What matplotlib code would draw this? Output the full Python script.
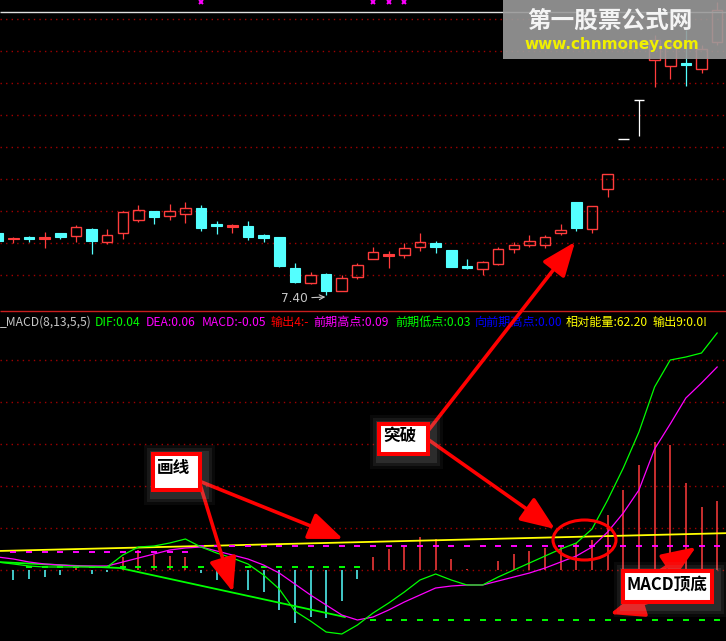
import matplotlib.pyplot as plt
import numpy as np
from matplotlib.patches import Rectangle, Ellipse, FancyArrowPatch

# candles (price), index = bar number
opens = [8.02, 7.96, 7.98, 7.96, 8.02, 7.99, 8.06, 7.93, 8.02, 8.15, 8.24, 8.19, 8.21, 8.27, 8.11, 8.08,
         8.09, 8.00, 7.98, 7.67, 7.52, 7.61, 7.44, 7.58, 7.76, 7.79, 7.80, 7.88, 7.92, 7.85, 7.69, 7.66,
         7.71, 7.86, 7.90, 7.90, 8.02, 8.33, 8.06, 8.46, 8.96, 9.35, 9.75, 9.69, 9.72, 9.66, 9.93]
closes = [7.94, 7.97, 7.96, 7.98, 7.98, 8.08, 7.94, 8.00, 8.23, 8.25, 8.18, 8.24, 8.27, 8.07, 8.09, 8.10,
          7.98, 7.97, 7.69, 7.53, 7.60, 7.44, 7.57, 7.70, 7.83, 7.81, 7.87, 7.93, 7.88, 7.68, 7.67, 7.73,
          7.86, 7.90, 7.94, 7.98, 8.05, 8.07, 8.29, 8.61, 8.96, 9.35, 9.95, 9.90, 9.70, 9.86, 10.25]
highs = [8.03, 7.98, 7.99, 8.03, 8.02, 8.10, 8.07, 8.06, 8.24, 8.30, 8.24, 8.31, 8.33, 8.30, 8.14, 8.11,
         8.14, 8.01, 7.98, 7.72, 7.63, 7.62, 7.60, 7.72, 7.88, 7.84, 7.92, 8.02, 7.94, 7.85, 7.76, 7.74,
         7.88, 7.93, 8.00, 8.00, 8.11, 8.33, 8.29, 8.61, 8.96, 9.35, 10.00, 9.95, 10.05, 9.90, 10.33]
lows = [7.93, 7.92, 7.93, 7.87, 7.96, 7.93, 7.81, 7.91, 7.96, 8.13, 8.11, 8.15, 8.12, 8.04, 8.01, 8.02,
        7.95, 7.93, 7.68, 7.52, 7.51, 7.40, 7.44, 7.56, 7.76, 7.67, 7.77, 7.84, 7.82, 7.68, 7.66, 7.60,
        7.70, 7.82, 7.88, 7.87, 8.00, 8.04, 8.02, 8.38, 8.96, 8.99, 9.48, 9.56, 9.49, 9.62, 9.90]
signal_idx = [13, 24, 25, 26]

# MACD panel
dif = [0.08, 0.06, 0.04, 0.03, 0.03, 0.03, 0.03, 0.03, 0.15, 0.23, 0.24, 0.27, 0.31, 0.23, 0.17, 0.12,
       0.06, -0.05, -0.19, -0.41, -0.51, -0.62, -0.64, -0.55, -0.43, -0.33, -0.22, -0.10, -0.04, -0.10,
       -0.15, -0.15, -0.07, 0.00, 0.07, 0.14, 0.21, 0.27, 0.41, 0.70, 1.02, 1.38, 1.83, 2.10, 2.13, 2.17, 2.37]
dea = [0.13, 0.11, 0.08, 0.06, 0.05, 0.04, 0.04, 0.04, 0.08, 0.12, 0.16, 0.20, 0.22, 0.23, 0.19, 0.15,
       0.11, 0.05, -0.03, -0.14, -0.25, -0.35, -0.45, -0.50, -0.47, -0.40, -0.32, -0.25, -0.18, -0.16,
       -0.15, -0.15, -0.11, -0.07, -0.03, 0.02, 0.08, 0.14, 0.23, 0.38, 0.57, 0.80, 1.21, 1.46, 1.72, 1.87, 2.03]
macd = [-0.08, -0.10, -0.09, -0.07, -0.05, 0.02, -0.04, -0.02, 0.13, 0.20, 0.15, 0.14, 0.13, -0.03, -0.10,
        -0.14, -0.20, -0.22, -0.40, -0.53, -0.47, -0.48, -0.31, -0.09, 0.13, 0.21, 0.24, 0.33, 0.31, 0.11,
        0.01, 0.00, 0.09, 0.16, 0.19, 0.22, 0.23, 0.27, 0.30, 0.55, 0.80, 1.05, 1.28, 1.25, 0.87, 0.63, 0.69]
# (first bar, last bar, level)
prev_high = [(1, 12, 0.18), (13, 46, 0.24)]
prev_low = [(2, 23, 0.035), (24, 46, -0.50)]
energy_x = [0, 47]
energy_y = [0.19, 0.37]
drawn_x = [0, 7.8, 22.2]
drawn_y = [0.08, 0.02, -0.47]

header_labels = ["_MACD(8,13,5,5)", "DIF:0.04", "DEA:0.06", "MACD:-0.05", "输出4:-", "前期高点:0.09",
                 "前期低点:0.03", "向前期高点:0.00", "相对能量:62.20", "输出9:0.0!"]
header_colors = ["#c8c8c8", "#00ff00", "#ff00ff", "#ff00ff", "#ff0000", "#ff00ff",
                 "#00ff00", "#0000ff", "#ffff00", "#ffff00"]
header_x = [0, 95, 146, 202, 271, 313, 395, 475, 566, 653]

UP = "#ff3c3c"
DOWN = "#54ffff"
GRID = "#a00000"
CJK = ["Noto Sans CJK SC", "DejaVu Sans"]
plt.rcParams["font.family"] = CJK

W, H = 726, 641
fig = plt.figure(figsize=(W / 100, H / 100), dpi=100, facecolor="black")
split = 311
ax = fig.add_axes([0, 1 - split / H, 1, split / H])
ax2 = fig.add_axes([0, 0, 1, (H - split) / H])
xlim = (2.3 / 15.64, (W + 2.3) / 15.64)

for a in (ax, ax2):
    a.set_facecolor("black")
    a.set_xlim(*xlim)
    a.set_xticks([])
    a.tick_params(left=False, labelleft=False)
    for s in a.spines.values():
        s.set_visible(False)
    a.grid(True, axis="y", color=GRID, ls=(0, (1, 3)), lw=1.0)
    a.set_axisbelow(True)

# ---- candles ----
ax.set_ylim(7.24, 10.35)
ax.set_yticks(np.arange(7.60, 10.2, 0.32))
w = 0.68
for i, (o, c, h, l) in enumerate(zip(opens, closes, highs, lows)):
    color = UP if c > o else (DOWN if c < o else "white")
    top, bot = max(o, c), min(o, c)
    if c > o and top - bot >= 0.025:
        ax.add_patch(Rectangle((i - w / 2, bot), w, top - bot, fill=False, ec=color, lw=1.0))
        ax.vlines(i, top, h, color=color, lw=0.9)
        ax.vlines(i, l, bot, color=color, lw=0.9)
    else:
        ax.vlines(i, l, h, color=color, lw=0.9)
        if top - bot > 0.005:
            ax.add_patch(Rectangle((i - w / 2, bot), w, top - bot, fc=color, ec=color, lw=0.8))
        else:
            ax.hlines(top, i - w / 2, i + w / 2, color=color, lw=1.0)
ax.plot(signal_idx, [10.33] * len(signal_idx), ls="none", marker="x", ms=3.5, mew=1.4, color="#ff00ff")
k_min = int(np.argmin(lows))
ax.annotate(f"{lows[k_min]:.2f}", xy=(k_min - 0.05, lows[k_min] - 0.02), xytext=(-32, -1),
            textcoords="offset points", ha="left", va="center", color="#c8c8c8", fontsize=8.7,
            family="DejaVu Sans",
            arrowprops=dict(arrowstyle="->", color="#c8c8c8", lw=0.8, shrinkA=1, shrinkB=0))

# ---- MACD panel ----
ax2.set_ylim(-0.71, 2.59)
ax2.set_yticks(np.arange(0, 2.2, 0.42))
x = np.arange(len(dif))
ax2.vlines(x, 0, macd, colors=[UP if v >= 0 else DOWN for v in macd], lw=1.1, zorder=2)
ax2.plot(energy_x, energy_y, color="#ffff00", lw=1.3, zorder=3)
for first, last, lvl in prev_high:
    ks = np.arange(first, last + 1)
    ax2.plot(ks, np.full(len(ks), lvl), ls="none", marker="_", ms=4, mew=1.4, color="#ff00ff", zorder=3)
for first, last, lvl in prev_low:
    ks = np.arange(first, last + 1)
    ax2.plot(ks, np.full(len(ks), lvl), ls="none", marker="_", ms=4, mew=1.4, color="#00ff00", zorder=3)
ax2.plot(drawn_x, drawn_y, color="#00ff00", lw=1.3, zorder=4)
ax2.plot(x, dea, color="#ff00ff", lw=0.9, zorder=5)
ax2.plot(x, dif, color="#00ff00", lw=0.9, zorder=6)

# ---- overlay: header, watermark, notes ----
ov = fig.add_axes([0, 0, 1, 1])
ov.set_xlim(0, W)
ov.set_ylim(H, 0)
ov.axis("off")
ov.patch.set_alpha(0)

ov.hlines(12, 0, W, color="#e0e0e0", lw=1.0)
ov.hlines(split, 0, W, color="#c81e1e", lw=1.0)
for lab, col, hx in zip(header_labels, header_colors, header_x):
    ov.text(hx, 322, lab, color=col, fontsize=8.7, ha="left", va="center", family=CJK)

ov.add_patch(Rectangle((503, 0), W - 503, 59, fc="#9a9a9a", ec="none", alpha=0.9, zorder=10))
ov.text(610, 21, "第一股票公式网", color="#f4f4f4", fontsize=17, fontweight="bold",
        ha="center", va="center", zorder=11, family=CJK)
ov.text(612, 44, "www.chnmoney.com", color="#f0f000", fontsize=11, fontweight="bold",
        ha="center", va="center", zorder=11, family="DejaVu Sans")


def note_box(x0, y0, x1, y1, text, tx, ty):
    for pad, al in [(10, 0.06), (7, 0.10), (4, 0.15)]:
        ov.add_patch(Rectangle((x0 - pad + 3, y0 - pad + 3), x1 - x0 + 2 * pad, y1 - y0 + 2 * pad,
                               fc="#a0a0a0", ec="none", alpha=al, zorder=20))
    ov.add_patch(Rectangle((x0 + 2, y0 + 2), x1 - x0 - 4, y1 - y0 - 4, fc="white", ec="#ff0000",
                           lw=2.9, zorder=21))
    ov.text(tx, ty, text, color="black", fontsize=12, fontweight="bold", ha="center",
            va="center", zorder=22, family=CJK)


def red_arrow(start, end):
    ov.add_patch(FancyArrowPatch(start, end, arrowstyle="-|>,head_length=1.5,head_width=0.6",
                                 mutation_scale=14, color="#ff0000", lw=2.6, shrinkA=0, shrinkB=0,
                                 zorder=19))


red_arrow((199, 481), (343, 539))
red_arrow((199, 481), (233, 592))
red_arrow((424, 436), (575, 242))
red_arrow((426, 438), (555, 529))
red_arrow((660, 571), (696, 547))
red_arrow((655, 600), (610, 614))
ov.add_patch(Ellipse((584.5, 540), 63, 40, fill=False, ec="#ff0000", lw=2.2, zorder=19))

note_box(151, 452, 202, 492, "画线", 174, 468)
note_box(377, 422, 430, 456, "突破", 400, 436)
note_box(621, 569, 714, 604, "MACD顶底", 667, 585)

fig.savefig("out.png", dpi=100, facecolor="black")
